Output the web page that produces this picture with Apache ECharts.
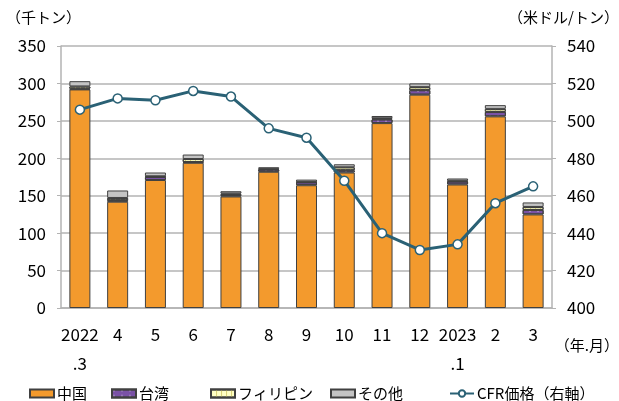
<!DOCTYPE html>
<html>
<head>
<meta charset="utf-8">
<script src="https://cdn.jsdelivr.net/npm/echarts@6/dist/echarts.min.js"></script>
<style>
  html, body { margin: 0; padding: 0; background: #fff; }
  #chart { width: 619px; height: 401px; }
</style>
</head>
<body>
<div id="chart"></div>
<script>
// 月ラベル
const months = ['2022\n.3', '4', '5', '6', '7', '8', '9', '10', '11', '12', '2023\n.1', '2', '3']
// 輸入量（千トン）
const china = [292, 142, 171, 194, 149, 182, 164, 181, 247, 285, 165, 256, 125]
const taiwan = [1, 2, 4, 1, 2, 3, 4, 3, 5, 6, 4, 6, 6]
const philippines = [3, 3, 1, 4, 2, 1, 0.5, 4, 1.5, 4, 1, 4, 4]
const others = [7, 10, 5, 6, 3, 2, 3, 4, 3, 5, 3, 5, 6]
// CFR価格（米ドル/トン）
const cfrPrice = [506, 512, 511, 516, 513, 496, 491, 468, 440, 431, 434, 456, 465]
// 凡例
const legendNames = ['中国', '台湾', 'フィリピン', 'その他', 'CFR価格（右軸）']

const FONT = '"Noto Sans CJK JP", "Noto Sans", sans-serif'
const border = '#404040'
const gridGray = '#b3b3b3'

let chart = echarts.init(document.getElementById('chart'))

function barSeries(name, data, color, decal) {
  let s = {
    name: name,
    type: 'bar',
    stack: 'total',
    barWidth: 21,
    data: data,
    itemStyle: { color: color, borderColor: border, borderWidth: 1 }
  }
  if (decal) s.itemStyle.decal = decal
  return s
}

// 凡例は1項目ずつ配置する
const legendLeft = [24, 106, 205, 325, 444]
let legends = legendNames.map((name, i) => ({
  left: legendLeft[i],
  top: 381,
  itemWidth: 24,
  itemHeight: 8,
  itemGap: 0,
  icon: i < 4 ? 'rect' : undefined,
  textStyle: { fontSize: 15, color: '#000', fontFamily: FONT, padding: [0, 0, 0, -2] },
  data: [name]
}))

let option = {
  animation: false,
  textStyle: { fontFamily: FONT, color: '#000' },
  grid: { left: 61, right: 67, top: 46, bottom: 93 },
  legend: legends,
  xAxis: {
    type: 'category',
    data: months,
    axisLine: { lineStyle: { color: gridGray, width: 1.5 } },
    axisTick: { lineStyle: { color: gridGray }, length: 5 },
    axisLabel: { fontSize: 17, color: '#000', lineHeight: 29, margin: 12, interval: 0 }
  },
  yAxis: [
    {
      type: 'value',
      min: 0,
      max: 350,
      interval: 50,
      axisLine: { show: true, lineStyle: { color: gridGray, width: 1.5 } },
      axisTick: { show: true, length: 4, lineStyle: { color: gridGray } },
      axisLabel: { fontSize: 17, color: '#000', margin: 15 },
      splitLine: { lineStyle: { color: gridGray, width: 1.5 } }
    },
    {
      type: 'value',
      min: 400,
      max: 540,
      interval: 20,
      axisLine: { show: true, lineStyle: { color: gridGray, width: 1.5 } },
      axisTick: { show: true, length: 4, lineStyle: { color: gridGray } },
      axisLabel: { fontSize: 17, color: '#000', margin: 15 },
      splitLine: { show: false }
    }
  ],
  graphic: [
    { type: 'text', left: 6, top: 10, style: { text: '（千トン）', font: '15px ' + FONT, fill: '#000' } },
    { type: 'text', right: 0, top: 10, style: { text: '（米ドル/トン）', font: '15px ' + FONT, fill: '#000' } },
    { type: 'text', right: 0, top: 338, style: { text: '（年.月）', font: '15px ' + FONT, fill: '#000' } }
  ],
  series: [
    barSeries('中国', china, '#f39a2d'),
    barSeries('台湾', taiwan, '#7a52a6', {
      symbol: 'circle', symbolSize: 0.6, color: '#ffffff',
      dashArrayX: [[4, 4]], dashArrayY: [2, 3]
    }),
    barSeries('フィリピン', philippines, '#ffffc4', {
      symbol: 'rect', symbolSize: 1, color: '#d9d27a',
      dashArrayX: [[1, 4]], dashArrayY: [5, 0]
    }),
    barSeries('その他', others, '#c4c4c4'),
    {
      name: 'CFR価格（右軸）',
      type: 'line',
      yAxisIndex: 1,
      data: cfrPrice,
      symbol: 'circle',
      symbolSize: 9,
      lineStyle: { color: '#2a6175', width: 3 },
      itemStyle: { color: '#ffffff', borderColor: '#2a6175', borderWidth: 1.5 },
      z: 5
    }
  ]
}

chart.setOption(option)
</script>
</body>
</html>
